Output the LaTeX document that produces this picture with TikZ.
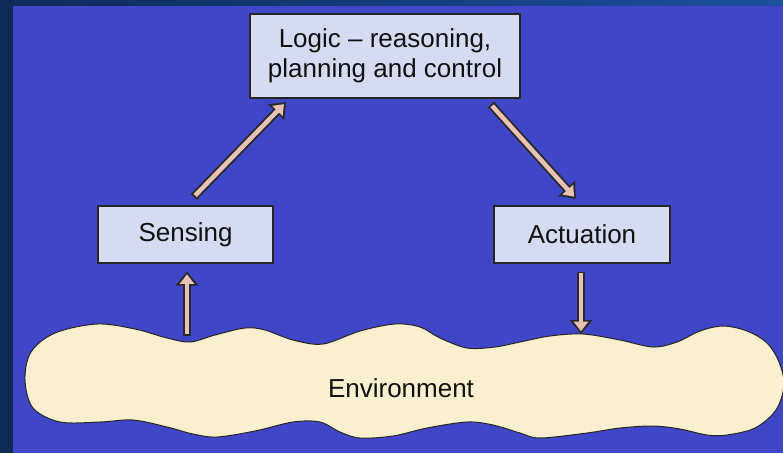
\documentclass[tikz,border=0pt]{standalone}
\usepackage{fontspec}
\setmainfont{Liberation Sans}
\usetikzlibrary{arrows.meta,calc,shadows}
\definecolor{bgdark}{HTML}{0E2A57}
\definecolor{bgtopr}{HTML}{1B50A0}
\definecolor{bgmain}{HTML}{3F46C8}
\definecolor{boxfill}{HTML}{D5DBF0}
\definecolor{cloudfill}{HTML}{FAEFCF}
\definecolor{arrpink}{HTML}{E8C2B6}
\definecolor{arrline}{HTML}{2A2A2A}
\definecolor{txt}{HTML}{111111}
\tikzset{
  box/.style={draw=black!85, line width=1.1pt, fill=boxfill, text=txt,
    font=\fontsize{26}{30}\selectfont, align=center, inner sep=0pt,
    general shadow={shadow xshift=1.3pt, shadow yshift=-1.3pt, fill=black!90}},
  outerarr/.style={line width=8.3pt, color=arrline, -{Triangle[length=14pt,width=22pt]}},
  innerarr/.style={line width=4.5pt, color=arrpink, -{Triangle[length=9.5pt,width=14pt]}},
}
\newcommand\fatarrow[4]{%
  \draw[outerarr, shorten <=#3, shorten >=#4] #1 -- #2;
  \draw[innerarr, shorten <=#3+1.8pt, shorten >=#4+2.8pt] #1 -- #2;}
\begin{document}
\begin{tikzpicture}[x=1pt,y=-1pt]
\useasboundingbox (0,0) rectangle (783,453);
\fill[bgdark] (0,0) rectangle (783,453);
\shade[left color=bgdark, right color=bgtopr] (0,0) rectangle (783,6);
\fill[bgmain] (13,6) rectangle (783,453);
% environment cloud
\begin{scope}
\clip (13,6) rectangle (783,453);
\draw[fill=cloudfill, draw=black!85, line width=1pt] plot[smooth cycle, tension=0.55] coordinates {
 (25,380) (31,352) (55,333) (97,324) (135,329) (167,338) (190,342) (215,335)
 (245,328) (265,330) (293,340) (323,344) (360,331) (395,324) (420,327) (440,338)
 (467,348) (495,347) (520,342) (550,336) (583,334) (620,340) (653,347) (677,342)
 (700,331) (723,326) (747,331) (767,343) (779,362) (784,385) (776,410) (755,428)
 (727,435) (707,435) (680,429) (653,426) (620,428) (587,433) (540,438) (520,433)
 (493,425) (467,422) (427,428) (393,436) (360,438) (340,432) (320,422) (293,422)
 (255,431) (217,437) (193,434) (167,427) (133,420) (100,422) (60,422) (33,408)};
\end{scope}
\node[text=txt, font=\fontsize{26}{30}\selectfont] (env) at (401,388) {Environment};
\coordinate (envin) at (187,336);
\coordinate (envout) at (581,334);
% boxes
\node[box, minimum width=270pt, minimum height=84pt] (logic) at (385,56) {Logic -- reasoning,\\planning and control};
\node[box, minimum width=175pt, minimum height=57pt] (sensing) at (185.5,234.5) {Sensing};
\node[box, minimum width=176pt, minimum height=57pt] (actuation) at (582,234.5) {Actuation};
% arrows
\fatarrow{(envin)}{(envin |- sensing.south)}{0pt}{8pt}
\fatarrow{(sensing.north)}{($(logic.south west)+(40,0)$)}{12pt}{5pt}
\fatarrow{($(logic.south east)+(-35,0)$)}{(actuation.north)}{8pt}{9pt}
\fatarrow{(actuation.south -| envout)}{(envout)}{8pt}{0pt}
\end{tikzpicture}
\end{document}
